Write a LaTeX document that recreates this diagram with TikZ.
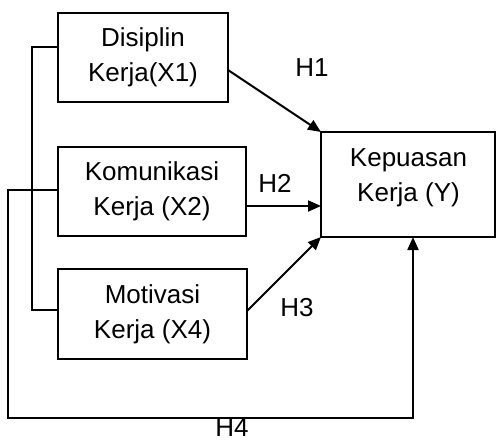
\documentclass[tikz,border=0pt]{standalone}
\usepackage{fontspec}
\setmainfont{Liberation Sans}
\usetikzlibrary{arrows.meta,calc}
\begin{document}
\begin{tikzpicture}[x=1pt,y=-1pt,
  box/.style={draw,line width=2pt,inner sep=0pt,outer sep=0pt,rectangle},
  txt/.style={align=center,inner sep=0pt,font=\fontsize{26}{35}\selectfont},
  conn/.style={line width=2pt},
  arr/.style={line width=2pt,-{Triangle[length=13pt,width=11pt]}},
  lab/.style={inner sep=0pt,font=\fontsize{26}{35}\selectfont}]
\useasboundingbox (0,0) rectangle (497,442);
\node[box,minimum width=170pt,minimum height=89pt] (X1) at (143,57.5) {};
\node[txt] at (X1) {Disiplin\\Kerja(X1)};
\node[box,minimum width=188pt,minimum height=89pt] (X2) at (152,191.5) {};
\node[txt] at (X2) {Komunikasi\\Kerja (X2)};
\node[box,minimum width=189pt,minimum height=90pt] (X3) at (152.5,314) {};
\node[txt] at (X3) {Motivasi\\Kerja (X4)};
\node[box,minimum width=174pt,minimum height=105pt] (Y) at (408,184.5) {};
\node[txt] at (408.5,178) {Kepuasan\\Kerja (Y)};
% bracket
\coordinate (b1) at (X1.west |- 0,47);
\coordinate (b3) at (X3.west |- 0,310);
\draw[conn] (b1) -| (32,310) -- (b3);
% loop H4
\coordinate (l2) at (X2.west |- 0,190);
\coordinate (ly) at (Y.south -| 413,0);
\draw[arr] (l2) -- (8,190) -- (8,418) -- (413,418) -- (ly);
% H arrows
\coordinate (s1) at (X1.east |- 0,70);
\draw[arr] (s1) -- (Y.north west);
\coordinate (s2) at (X2.east |- 0,206);
\coordinate (e2) at (Y.west |- 0,206);
\draw[arr] (s2) -- (e2);
\coordinate (s3) at (X3.east |- 0,311);
\draw[arr] (s3) -- (Y.south west);
\node[lab] (H1) at (312,68) {H1};
\node[lab] (H2) at (275,183) {H2};
\node[lab] (H3) at (297,308) {H3};
\node[lab] (H4) at (232,428) {H4};
\end{tikzpicture}
\end{document}
